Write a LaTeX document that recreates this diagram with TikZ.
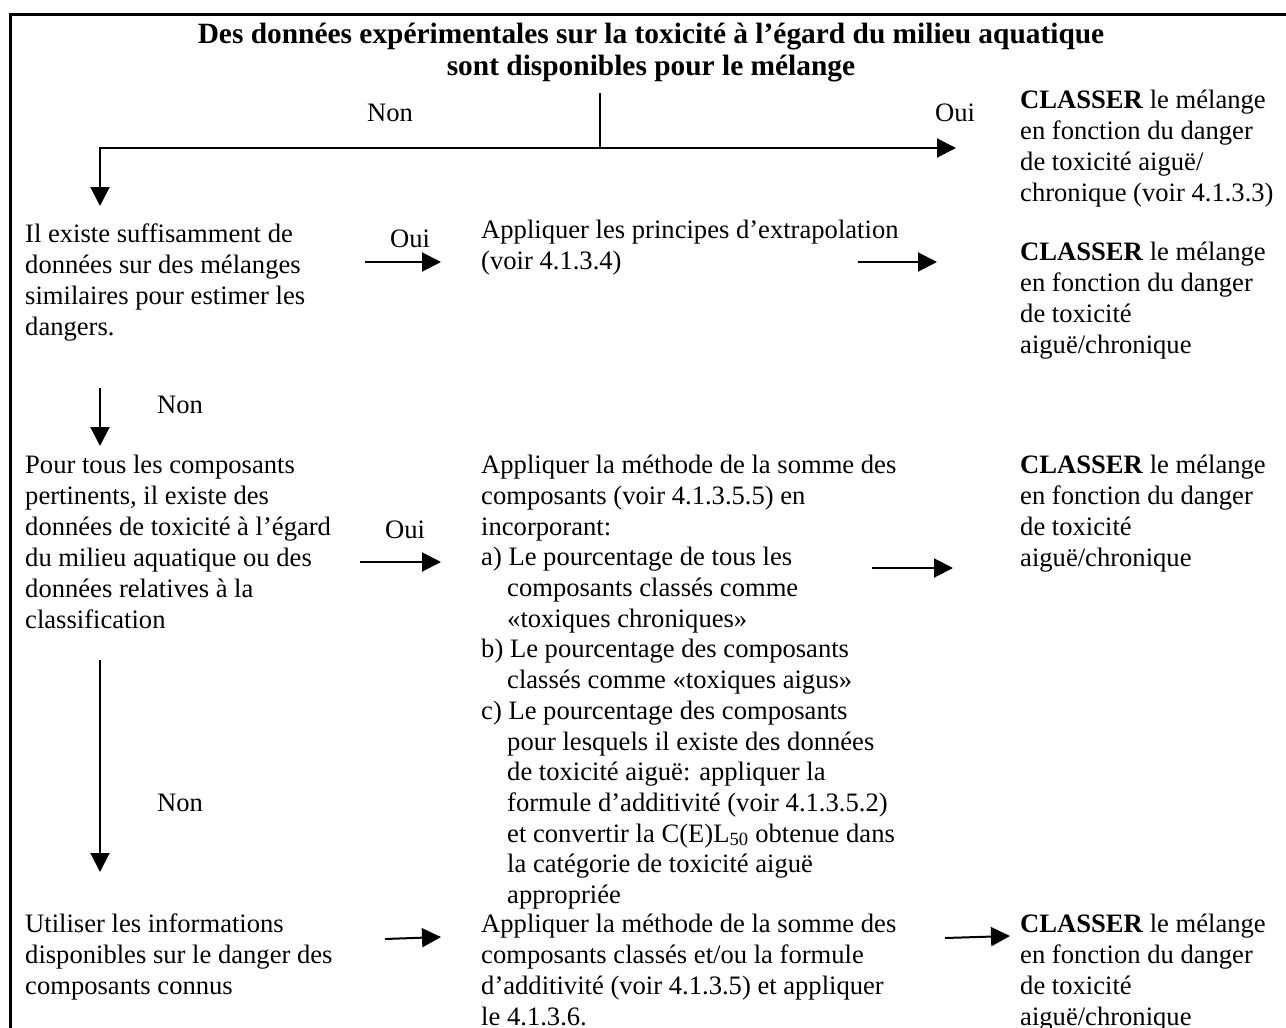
\documentclass[tikz,border=0pt]{standalone}
\usepackage{fontspec}
\setmainfont{Liberation Serif}[Ligatures=NoCommon]
\usetikzlibrary{arrows.meta}
\newcommand\bodysize{\fontsize{26.6}{31}\selectfont}
\newcommand\listsize{\fontsize{26.6}{30.7}\selectfont}
\newcommand\headsize{\fontsize{29.4}{31.5}\selectfont}
\newcommand\ind{\hspace*{26pt}}
\begin{document}
\begin{tikzpicture}[x=1pt,y=-1pt,
  txt/.style={anchor=north west, align=left, inner sep=0pt, font=\bodysize},
  headline/.style={anchor=north, align=center, inner sep=0pt, font=\headsize\bfseries},
  lbl/.style={inner sep=0pt, font=\bodysize},
  arr/.style={line width=2pt, -{Triangle[length=19pt,width=19pt]}},
  stem/.style={line width=1.5pt},
  frame/.style={line width=3pt}]
\useasboundingbox (0,0) rectangle (1286,1028);
% open frame: left and top edges only
\draw[frame] (10,1040) -- (10,14) -- (1300,14);

% question
\node[headline] (title) at (651,23) {Des données expérimentales sur la toxicité à l’égard du milieu aquatique\\sont disponibles pour le mélange};

% text blocks
\node[txt] (r1) at (1020,90) {\textbf{CLASSER} le mélange\\en fonction du danger\\de toxicité aiguë/\\chronique (voir 4.1.3.3)};
\node[txt] (a) at (25,224) {Il existe suffisamment de\\données sur des mélanges\\similaires pour estimer les\\dangers.};
\node[txt] (ext) at (481,220) {Appliquer les principes d’extrapolation\\(voir 4.1.3.4)};
\node[txt] (r2) at (1020,242) {\textbf{CLASSER} le mélange\\en fonction du danger\\de toxicité\\aiguë/chronique};
\node[txt] (b) at (25,455) {Pour tous les composants\\pertinents, il existe des\\données de toxicité à l’égard\\du milieu aquatique ou des\\données relatives à la\\classification};
\node[txt, font=\listsize] (c) at (481,455) {Appliquer la méthode de la somme des\\composants (voir 4.1.3.5.5) en\\incorporant:\\a) Le pourcentage de tous les\\\ind composants classés comme\\\ind «toxiques chroniques»\\b) Le pourcentage des composants\\\ind classés comme «toxiques aigus»\\c) Le pourcentage des composants\\\ind pour lesquels il existe des données\\\ind de toxicité aiguë: appliquer la\\\ind formule d’additivité (voir 4.1.3.5.2)\\\ind et convertir la C(E)L\textsubscript{50} obtenue dans\\\ind la catégorie de toxicité aiguë\\\ind appropriée};
\node[txt] (r3) at (1020,455) {\textbf{CLASSER} le mélange\\en fonction du danger\\de toxicité\\aiguë/chronique};
\node[txt] (e) at (25,914) {Utiliser les informations\\disponibles sur le danger des\\composants connus};
\node[txt] (d) at (481,914) {Appliquer la méthode de la somme des\\composants classés et/ou la formule\\d’additivité (voir 4.1.3.5) et appliquer\\le 4.1.3.6.};
\node[txt] (r4) at (1020,914) {\textbf{CLASSER} le mélange\\en fonction du danger\\de toxicité\\aiguë/chronique};

% branch labels
\node[lbl] (non0) at (390,113) {Non};
\node[lbl] (oui0) at (955,113) {Oui};
\node[lbl] (oui1) at (410,239) {Oui};
\node[lbl] (non1) at (180,405) {Non};
\node[lbl] (oui2) at (405,530) {Oui};
\node[lbl] (non2) at (180,803) {Non};

% connector end points
\coordinate (top) at (600,93);
\coordinate (split) at (600,148);
\coordinate (corner) at (100,148);
\coordinate (aIn) at (100,206);
\coordinate (r1In) at (956,148);
\coordinate (o1s) at (365,262);  \coordinate (o1e) at (441,262);
\coordinate (x1s) at (858,262);  \coordinate (x1e) at (937,262);
\coordinate (n1s) at (100,388);  \coordinate (n1e) at (100,446);
\coordinate (o2s) at (360,562);  \coordinate (o2e) at (441,562);
\coordinate (x2s) at (872,568);  \coordinate (x2e) at (953,568);
\coordinate (n2s) at (100,660);  \coordinate (n2e) at (100,872);
\coordinate (o3s) at (385,939);  \coordinate (o3e) at (441,937);
\coordinate (x3s) at (945,938);  \coordinate (x3e) at (1010,936);

% connectors
\draw[stem] (top) -- (split);
\draw[arr] (split) -- (corner) -- (aIn);
\draw[arr] (split) -- (r1In);
\draw[arr] (o1s) -- (o1e);
\draw[arr] (x1s) -- (x1e);
\draw[arr] (n1s) -- (n1e);
\draw[arr] (o2s) -- (o2e);
\draw[arr] (x2s) -- (x2e);
\draw[arr] (n2s) -- (n2e);
\draw[arr] (o3s) -- (o3e);
\draw[arr] (x3s) -- (x3e);
\end{tikzpicture}
\end{document}
